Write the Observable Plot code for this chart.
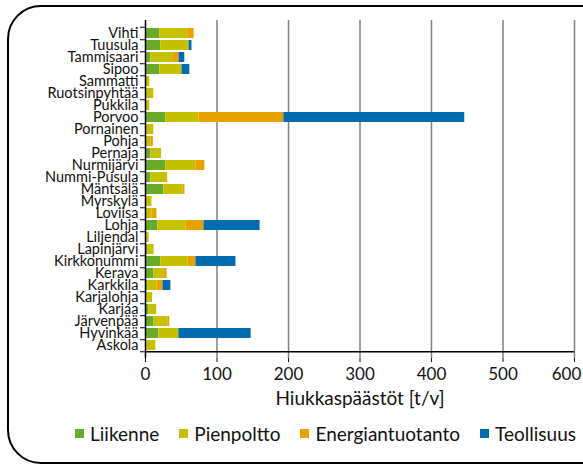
<!DOCTYPE html>
<html>
<head>
<meta charset="utf-8">
<script src="https://cdn.jsdelivr.net/npm/d3@7"></script>
<script src="https://cdn.jsdelivr.net/npm/@observablehq/plot@0.6"></script>
<style>
  body { margin: 0; background: #fff; }
  #wrap { position: relative; width: 583px; height: 469px; overflow: hidden; font-family: Lato, "Open Sans", sans-serif; }
  #frame { position: absolute; left: 7px; top: 5px; width: 610px; height: 459px; border: 2px solid #000; border-radius: 34px; box-sizing: border-box; }
  #chart { position: absolute; left: 0; top: 0; }
  #legend { position: absolute; left: 0; width: 651px; top: 422px; display: flex; justify-content: center; gap: 20px; font-size: 19px; color: #111; }
  #legend span.item { display: flex; align-items: center; gap: 6px; }
  #legend span.sw { display: inline-block; width: 9px; height: 9px; }
</style>
</head>
<body>
<div id="wrap">
  <div id="frame"></div>
  <div id="chart"></div>
  <div id="legend"></div>
</div>
<script>
const categories = ["Vihti","Tuusula","Tammisaari","Sipoo","Sammatti","Ruotsinpyhtää","Pukkila","Porvoo","Pornainen","Pohja","Pernaja","Nurmijärvi","Nummi-Pusula","Mäntsälä","Myrskylä","Loviisa","Lohja","Liljendal","Lapinjärvi","Kirkkonummi","Kerava","Karkkila","Karjalohja","Karjaa","Järvenpää","Hyvinkää","Askola"];
const series = ["Liikenne","Pienpoltto","Energiantuotanto","Teollisuus"];
const colors = ["#6aaa2a","#c5c000","#e8a200","#006bae"];
const liikenne   = [20,21.5,7.5,20,1,1,1,28.5,1,1,7.5,28.5,7.5,25.7,1,1,17.3,1,3,21.5,11.7,3,1,4.7,11.7,18.7,2];
const pienpoltto = [39,39.5,30.5,31,5,10.5,5,46.5,10.5,6.5,15,42,23.5,27,8,8,39.2,4,9,38,14,13,9,11,19.5,28,12.5];
const energia    = [9,0,9,0,0,0,0,118.5,0,3.5,0,12.5,0,2.5,0,7,25.3,0,0,11,4.3,8.5,0,0,2.7,0,0];
const teollisuus = [0,4,8,11,0,0,0,253,0,0,0,0,0,0,0,0,78.5,0,0,56,0,11,0,0,0,101,0];
const xTicks = [0,100,200,300,400,500,600];
const xLabel = "Hiukkaspäästöt [t/v]";

const values = [liikenne, pienpoltto, energia, teollisuus];
const rows = [];
categories.forEach((c, i) => series.forEach((s, j) => rows.push({name: c, series: s, value: values[j][i]})));

const width = 583, height = 414, mt = 20, mb = 56, ml = 145, mr = 9;
const step = (height - mt - mb) / categories.length;

const chart = Plot.plot({
  width, height,
  marginTop: mt, marginBottom: mb, marginLeft: ml, marginRight: mr,
  style: {fontFamily: "Lato, 'Open Sans', sans-serif", color: "#111", background: "transparent", overflow: "visible"},
  x: {domain: [0, 600]},
  y: {domain: categories, paddingInner: 0.2, paddingOuter: 0.1},
  color: {domain: series, range: colors},
  marks: [
    Plot.ruleX(xTicks.slice(1), {stroke: "#808080", strokeWidth: 1.5}),
    Plot.barX(rows, Plot.stackX({y: "name", x: "value", fill: "series", z: "series", order: null})),
    Plot.ruleX([0], {stroke: "#000", strokeWidth: 1.5}),
    Plot.ruleY([categories[categories.length - 1]], {dy: step / 2, stroke: "#000", strokeWidth: 1.5}),
    Plot.axisX({ticks: xTicks.slice(0, -1), tickSize: 4, tickPadding: 5, fontSize: 17, label: xLabel, labelAnchor: "center", labelArrow: "none", labelOffset: 46}),
    Plot.axisX({ticks: xTicks.slice(-1), tickSize: 4, tickPadding: 5, fontSize: 17, label: null, text: null}),
    Plot.axisX({ticks: xTicks.slice(-1), tickSize: 0, tickPadding: 9, fontSize: 17, label: null, dx: -8}),
    Plot.axisY({tickSize: 0, tickPadding: 7, fontSize: 14.5, label: null}),
    Plot.axisY({tickSize: 5, text: null, label: null, dy: step / 2, stroke: "#000"}),
    Plot.axisY([categories[0]], {tickSize: 5, text: null, label: null, dy: -step / 2, stroke: "#000"})
  ]
});
chart.querySelectorAll("g[aria-label='x-axis label'] text").forEach(t => t.style.fontSize = "19px");
document.getElementById("chart").appendChild(chart);

const legend = document.getElementById("legend");
series.forEach((s, j) => {
  const item = document.createElement("span");
  item.className = "item";
  const sw = document.createElement("span");
  sw.className = "sw";
  sw.style.background = colors[j];
  const t = document.createElement("span");
  t.textContent = s;
  item.appendChild(sw); item.appendChild(t);
  legend.appendChild(item);
});
</script>
</body>
</html>
